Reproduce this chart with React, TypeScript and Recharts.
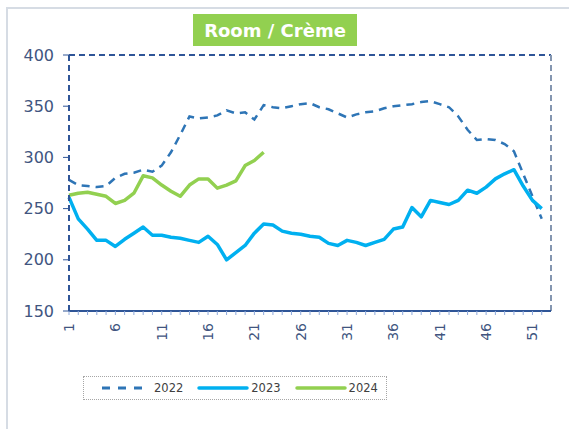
import React from "react";
import { LineChart, Line, XAxis, YAxis, ReferenceLine, Legend } from "recharts";

const weeks: number[] = Array.from({ length: 52 }, (_, i) => i + 1);
const xLabels: number[] = [1, 6, 11, 16, 21, 26, 31, 36, 41, 46, 51];
const yTicks: number[] = [150, 200, 250, 300, 350, 400];

const s2022: number[] = [
  278, 273, 272, 271, 272, 280, 284, 285, 288, 286,
  292, 305, 322, 340, 338, 339, 341, 346, 343, 344,
  337, 351, 349, 348, 350, 352, 353, 349, 347, 343,
  339, 342, 344, 345, 348, 350, 351, 352, 354, 355,
  352, 349, 340, 327, 317, 318, 317, 313, 306, 284,
  262, 240,
];
const s2023: number[] = [
  261, 240, 230, 219, 219, 213, 220, 226, 232, 224,
  224, 222, 221, 219, 217, 223, 215, 200, 207, 214,
  226, 235, 234, 228, 226, 225, 223, 222, 216, 214,
  219, 217, 214, 217, 220, 230, 232, 251, 242, 258,
  256, 254, 258, 268, 265, 271, 279, 284, 288, 272,
  258, 250,
];
const s2024: number[] = [
  263, 265, 266, 264, 262, 255, 258, 265, 282, 280,
  273, 267, 262, 273, 279, 279, 270, 273, 277, 292,
  297, 305,
];

const data = weeks.map((w, i) => ({
  week: w,
  y2022: s2022[i],
  y2023: s2023[i],
  y2024: i < s2024.length ? s2024[i] : null,
}));

const AXIS_BLUE = "#2F5597";
const LABEL = "#41557F";
const C2022 = "#2E75B6";
const C2023 = "#00B0F0";
const C2024 = "#92D050";

const XTick = (props: any) => {
  const { x, y, payload } = props;
  if (!xLabels.includes(payload.value)) return null;
  return (
    <text
      x={x + 5}
      y={y + 6}
      transform={`rotate(-90 ${x + 5} ${y + 6})`}
      textAnchor="end"
      fontSize={14}
      fontFamily="DejaVu Sans"
      fill={LABEL}
    >
      {payload.value}
    </text>
  );
};

const LegendContent = () => (
  <div
    style={{
      width: 304,
      height: 24,
      border: "1px dotted #A6A6A6",
      display: "flex",
      alignItems: "center",
      fontFamily: "DejaVu Sans",
      fontSize: 11.5,
      color: "#404040",
      boxSizing: "border-box",
    }}
  >
    <svg width={52} height={10} style={{ marginLeft: 16 }}>
      <line x1={2} y1={5} x2={50} y2={5} stroke={C2022} strokeWidth={3} strokeDasharray="8 8" />
    </svg>
    <span style={{ marginLeft: 2 }}>2022</span>
    <svg width={52} height={10} style={{ marginLeft: 14 }}>
      <line x1={2} y1={5} x2={50} y2={5} stroke={C2023} strokeWidth={3.5} strokeLinecap="round" />
    </svg>
    <span style={{ marginLeft: 2 }}>2023</span>
    <svg width={52} height={10} style={{ marginLeft: 14 }}>
      <line x1={2} y1={5} x2={50} y2={5} stroke={C2024} strokeWidth={3.5} strokeLinecap="round" />
    </svg>
    <span style={{ marginLeft: 2 }}>2024</span>
  </div>
);

export default function App() {
  return (
    <div style={{ position: "absolute", left: 0, top: 0, width: 569, height: 429, overflow: "hidden", background: "#fff" }}>
      <div
        style={{
          position: "absolute",
          left: 6,
          top: 7,
          width: 600,
          height: 500,
          borderLeft: "2px solid #D6DCE4",
          borderTop: "2px solid #D6DCE4",
        }}
      />
      <div
        style={{
          position: "absolute",
          left: 193,
          top: 14,
          width: 164,
          height: 32,
          background: "#92D050",
          color: "#fff",
          fontFamily: "DejaVu Sans",
          fontWeight: "bold",
          fontSize: 18,
          display: "flex",
          alignItems: "center",
          justifyContent: "center",
        }}
      >
        Room / Crème
      </div>
      <div style={{ position: "absolute", left: 0, top: 0 }}>
        <LineChart width={569} height={429} data={data} margin={{ top: 55, right: 18, left: 9, bottom: 54 }}>
          <XAxis
            dataKey="week"
            type="number"
            domain={[1, 53]}
            ticks={weeks}
            interval={0}
            tick={<XTick />}
            tickSize={4}
            tickLine={{ stroke: "#8EA9DB" }}
            axisLine={{ stroke: AXIS_BLUE, strokeWidth: 2 }}
            height={40}
          />
          <YAxis
            type="number"
            domain={[150, 400]}
            ticks={yTicks}
            interval={0}
            width={60}
            tickSize={6}
            tickMargin={9}
            tick={{ fontSize: 16, fontFamily: "DejaVu Sans", fill: LABEL }}
            tickLine={{ stroke: AXIS_BLUE }}
            axisLine={{ stroke: AXIS_BLUE, strokeWidth: 2, strokeDasharray: "6 4" }}
          />
          <ReferenceLine y={400} stroke={AXIS_BLUE} strokeWidth={2} strokeDasharray="6 4" />
          <ReferenceLine x={53} stroke="#8496B0" strokeWidth={2} strokeDasharray="6 4" />
          <Legend
            content={<LegendContent />}
            wrapperStyle={{ position: "absolute", left: 83, top: 376, width: 304, height: 24 }}
          />
          <Line
            dataKey="y2022"
            stroke={C2022}
            strokeWidth={2.5}
            strokeDasharray="8 6"
            dot={false}
            isAnimationActive={false}
          />
          <Line
            dataKey="y2023"
            stroke={C2023}
            strokeWidth={3.5}
            dot={false}
            strokeLinejoin="round"
            isAnimationActive={false}
          />
          <Line
            dataKey="y2024"
            stroke={C2024}
            strokeWidth={3.5}
            dot={false}
            strokeLinejoin="round"
            isAnimationActive={false}
          />
        </LineChart>
      </div>
    </div>
  );
}
